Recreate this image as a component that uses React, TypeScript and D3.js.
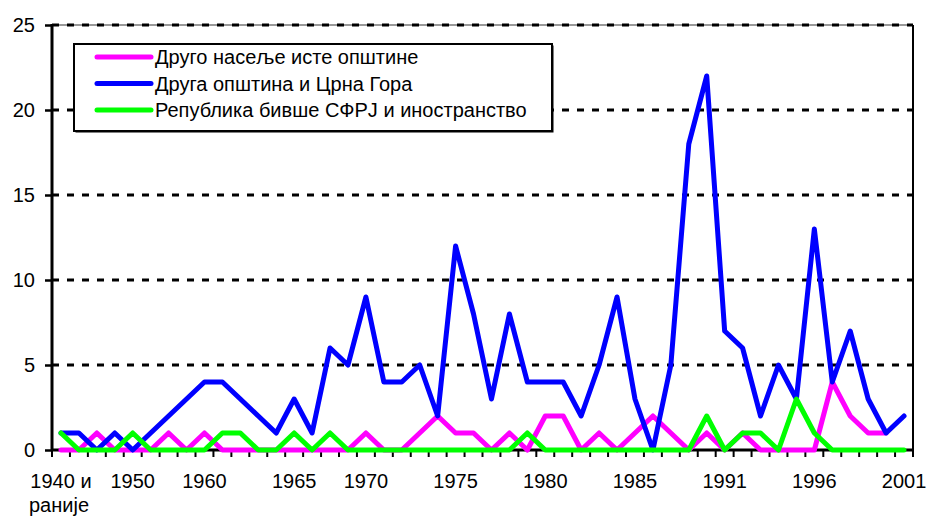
import React, { useRef, useEffect } from "react";
import * as d3 from "d3";

// category labels (only some are printed on the axis)
const categories = [
  "1940 и\nраније", "", "", "", "1950", "", "", "", "1960", "", "", "", "",
  "1965", "", "", "", "1970", "", "", "", "", "1975", "", "", "", "",
  "1980", "", "", "", "", "1985", "", "", "", "", "1991", "", "", "", "",
  "1996", "", "", "", "", "2001",
];

const seriesNames = [
  "Друго насеље исте општине",
  "Друга општина и Црна Гора",
  "Република бивше СФРЈ и иностранство",
];

const otherSettlement = [
  0, 0, 1, 0, 0, 0, 1, 0, 1, 0, 0, 0, 0, 0, 0, 0, 0, 1, 0, 0, 1, 2, 1, 1,
  0, 1, 0, 2, 2, 0, 1, 0, 1, 2, 1, 0, 1, 0, 1, 0, 0, 0, 0, 4, 2, 1, 1,
];
const otherMunicipality = [
  1, 1, 0, 1, 0, 1, 2, 3, 4, 4, 3, 2, 1, 3, 1, 6, 5, 9, 4, 4, 5, 2, 12, 8,
  3, 8, 4, 4, 4, 2, 5, 9, 3, 0, 5, 18, 22, 7, 6, 2, 5, 3, 13, 4, 7, 3, 1, 2,
];
const otherRepublic = [
  1, 0, 0, 0, 1, 0, 0, 0, 0, 1, 1, 0, 0, 1, 0, 1, 0, 0, 0, 0, 0, 0, 0, 0,
  0, 0, 1, 0, 0, 0, 0, 0, 0, 0, 0, 0, 2, 0, 1, 1, 0, 3, 1, 0, 0, 0, 0, 0,
];

const yTicks = [0, 5, 10, 15, 20, 25];
const colors = ["#ff00ff", "#0000ff", "#00ff00"];

const W = 927;
const H = 518;
const m = { left: 52, right: 14, top: 25, bottom: 68 };
const font = "'Liberation Sans', Arial, sans-serif";

const App = () => {
  const yAxisRef = useRef(null);

  const idx = categories.map((_, i) => i);
  const xBand = d3.scaleBand<number>().domain(idx).range([m.left, W - m.right]);
  const x = d3.scalePoint<number>().domain(idx).range([m.left, W - m.right]).padding(0.5);
  const y = d3.scaleLinear().domain([0, 25]).range([H - m.bottom, m.top]);

  useEffect(() => {
    const g = d3.select(yAxisRef.current);
    const axis = d3.axisLeft(y).tickValues(yTicks).tickSize(7).tickPadding(10);
    g.call(axis as any);
    g.select(".domain").remove();
    g.selectAll(".tick line").attr("stroke", "#000").attr("stroke-width", 2.5);
    g.selectAll(".tick text")
      .attr("font-size", 20)
      .attr("font-family", font)
      .attr("fill", "#000");
  });

  const series = [otherSettlement, otherMunicipality, otherRepublic];
  const line = d3
    .line<number>()
    .x((d, i) => x(i) as number)
    .y((d) => y(d));

  const boundaries = idx.map((i) => xBand(i) as number).concat([W - m.right]);

  return (
    <div style={{ position: "absolute", left: 0, top: 0 }}>
      <svg width={W} height={H} style={{ display: "block", background: "#fff" }}>
        {/* plot frame */}
        <line x1={m.left} x2={W - m.right} y1={y(25)} y2={y(25)} stroke="#999" strokeWidth={2} />
        <line x1={W - m.right} x2={W - m.right} y1={y(25)} y2={y(0)} stroke="#000" strokeWidth={2} />
        {/* dashed gridlines */}
        {yTicks.filter((t) => t > 0).map((t) => (
          <line key={t} x1={m.left} x2={W - m.right} y1={y(t)} y2={y(t)}
            stroke="#000" strokeWidth={3} strokeDasharray="7,8" />
        ))}
        {/* axes */}
        <g ref={yAxisRef} transform={`translate(${m.left},0)`} />
        <line x1={m.left} x2={m.left} y1={y(25) - 1} y2={y(0) + 1} stroke="#000" strokeWidth={3} />
        <line x1={m.left} x2={W - m.right} y1={y(0)} y2={y(0)} stroke="#000" strokeWidth={3} />
        {boundaries.map((bx, i) => (
          <line key={i} x1={bx} x2={bx} y1={y(0)} y2={y(0) + 7} stroke="#000" strokeWidth={2} />
        ))}
        {categories.map((c, i) =>
          c ? (
            <text key={i} x={x(i)} y={488} textAnchor="middle" fontSize={20} fontFamily={font}>
              {c.split("\n").map((s, k) => (
                <tspan key={k} x={x(i)} dy={k === 0 ? 0 : 24} textAnchor={k === 0 ? "middle" : "start"}
                  dx={k === 0 ? 0 : -32}>
                  {s}
                </tspan>
              ))}
            </text>
          ) : null
        )}
        {/* series */}
        {series.map((s, k) => (
          <path key={k} d={line(s) || ""} fill="none" stroke={colors[k]}
            strokeWidth={5} strokeLinejoin="round" strokeLinecap="round" />
        ))}
        {/* legend */}
        <g>
          <rect x={75.5} y={45.5} width={478} height={87} fill="#000" />
          <rect x={74} y={44} width={478} height={87} fill="#fff" stroke="#000" strokeWidth={2} />
          {seriesNames.map((n, k) => (
            <g key={k} transform={`translate(0,${57 + k * 26.5})`}>
              <line x1={97} x2={151} y1={0} y2={0} stroke={colors[k]} strokeWidth={5} strokeLinecap="round" />
              <text x={155} y={0} dy="0.35em" fontSize={20} fontFamily={font}>{n}</text>
            </g>
          ))}
        </g>
      </svg>
    </div>
  );
};

export default App;
